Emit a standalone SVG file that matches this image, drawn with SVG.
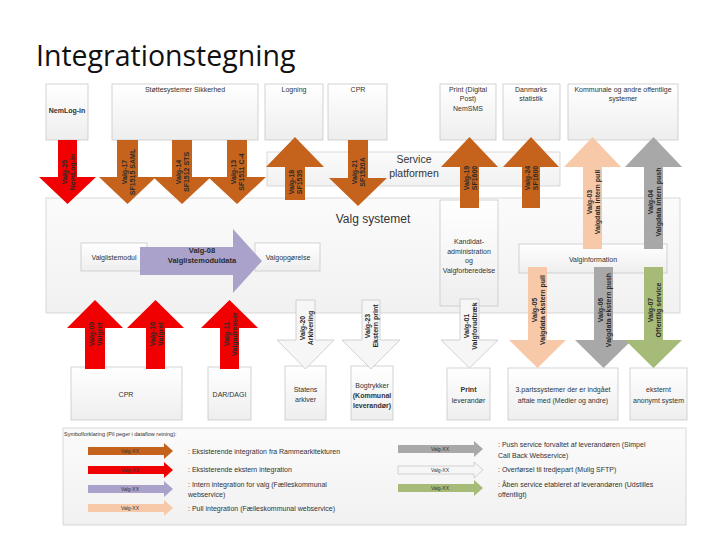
<svg xmlns="http://www.w3.org/2000/svg" width="720" height="540" viewBox="0 0 720 540">
<defs>
<linearGradient id="bx" x1="0" y1="0" x2="0" y2="1"><stop offset="0" stop-color="#ffffff"/><stop offset="1" stop-color="#eeeeee"/></linearGradient>
<linearGradient id="bg" x1="0" y1="0" x2="0" y2="1"><stop offset="0" stop-color="#fbfbfb"/><stop offset="1" stop-color="#f1f1f1"/></linearGradient>
</defs>
<style>
.box{fill:url(#bx);stroke:#c9c9c9;stroke-width:0.8}
.big{fill:url(#bg);stroke:#d0d0d0;stroke-width:0.8}
.t{font-family:"Liberation Sans",Arial,sans-serif;font-size:7px;fill:#333;text-anchor:middle}
.tb{font-weight:bold}
.a{font-family:"Liberation Sans",Arial,sans-serif;font-size:7px;fill:#2a2a2a;text-anchor:middle;font-weight:bold}
.org{fill:#c5631c}
.red{fill:#f00000}
.pur{fill:#aba2cb}
.pch{fill:#f7c9a9}
.gry{fill:#a8a8a8}
.grn{fill:#a7bb78}
.wht{fill:#f6f6f6;stroke:#c8c8c8;stroke-width:0.8}
.lg{font-family:"Liberation Sans",Arial,sans-serif;font-size:7px;fill:#333}
.lv{font-family:"Liberation Sans",Arial,sans-serif;font-size:5px;fill:#333;text-anchor:middle}
</style>
<rect width="720" height="540" fill="#ffffff"/>
<text x="36" y="66" font-family="'Open Sans',sans-serif" font-size="28.5" fill="#111">Integrationstegning</text>

<g id="valgsystemet"><rect class="big" x="46" y="198" width="634" height="115"/><text class="t" x="373" y="223" style="font-size:12px">Valg systemet</text></g>
<g id="serviceplatform"><rect class="big" x="267" y="152" width="293" height="34"/><text class="t" x="414" y="163" style="font-size:10.5px">Service</text><text class="t" x="414" y="177" style="font-size:10.5px">platformen</text></g>
<g id="nemlogin"><rect class="box" x="46" y="84" width="42" height="56"/><text class="t tb" x="67" y="113">NemLog-in</text></g>
<g id="stotte"><rect class="box" x="112" y="84" width="146" height="56"/><text class="t" x="185" y="92">Støttesystemer Sikkerhed</text></g>
<g id="logning"><rect class="box" x="265" y="84" width="58" height="56"/><text class="t" x="294" y="92">Logning</text></g>
<g id="cprtop"><rect class="box" x="328" y="84" width="59" height="56"/><text class="t" x="358" y="92">CPR</text></g>
<g id="print"><rect class="box" x="440" y="84" width="56" height="56"/><text class="t" x="468" y="92">Print (Digital</text><text class="t" x="468" y="101">Post)</text><text class="t" x="468" y="111">NemSMS</text></g>
<g id="dst"><rect class="box" x="503" y="84" width="57" height="56"/><text class="t" x="531" y="92">Danmarks</text><text class="t" x="531" y="101">statistik</text></g>
<g id="kommunale"><rect class="box" x="568" y="84" width="110" height="56"/><text class="t" x="623" y="92">Kommunale og andre offentlige</text><text class="t" x="623" y="101">systemer</text></g>
<g id="valglistemodul"><rect class="box" x="81" y="243" width="66" height="28"/><text class="t" x="114" y="260">Valglistemodul</text></g>
<g id="valgopgorelse"><rect class="box" x="255" y="243" width="65" height="28"/><text class="t" x="288" y="260">Valgopgørelse</text></g>
<g id="kandidat"><rect class="box" x="440" y="200" width="58" height="106"/><text class="t" x="469" y="244">Kandidat-</text><text class="t" x="469" y="254">administration</text><text class="t" x="469" y="263">og</text><text class="t" x="469" y="273">Valgforberedelse</text></g>
<g id="valginformation"><rect class="box" x="519" y="244" width="148" height="29"/><text class="t" x="593" y="262">Valginformation</text></g>
<g id="cpr"><rect class="box" x="71" y="367" width="111" height="53"/><text class="t" x="126" y="397">CPR</text></g>
<g id="dar"><rect class="box" x="208" y="367" width="43" height="53"/><text class="t" x="229.5" y="397">DAR/DAGI</text></g>
<g id="statens"><rect class="box" x="285" y="366" width="41" height="54"/><text class="t" x="305.5" y="392">Statens</text><text class="t" x="305.5" y="402">arkiver</text></g>
<g id="bogtrykker"><rect class="box" x="351" y="366" width="42" height="54"/><text class="t" x="372" y="388">Bogtrykker</text><text class="t tb" x="372" y="398">(Kommunal</text><text class="t tb" x="372" y="408">leverandør)</text></g>
<g id="printlev"><rect class="box" x="447" y="368" width="43" height="52"/><text class="t tb" x="468.5" y="392">Print</text><text class="t" x="468.5" y="403">leverandør</text></g>
<g id="tredjepart"><rect class="box" x="508" y="368" width="110" height="52"/><text class="t" x="563" y="392">3.partssystemer der er indgået</text><text class="t" x="563" y="403">aftale med (Medier og andre)</text></g>
<g id="eksternt"><rect class="box" x="630" y="368" width="57" height="52"/><text class="t" x="658.5" y="392">eksternt</text><text class="t" x="658.5" y="403">anonymt system</text></g>

<g id="connectors">
<polygon class="red" points="58,140 77,140 77,177 96,177 67.5,204 39,177 58,177"/>
<text class="a" transform="translate(67.5,172) rotate(-90)"><tspan x="0" y="-1">Valg-25</tspan><tspan x="0" y="7">NemLog-in</tspan></text>
<polygon class="org" points="117,140 138,140 138,177 156,177 127.5,204 99,177 117,177"/>
<text class="a" transform="translate(127.5,172) rotate(-90)"><tspan x="0" y="-1">Valg-17</tspan><tspan x="0" y="7">SF1515 SAML</tspan></text>
<polygon class="org" points="172,140 192,140 192,177 211,177 182,204 153,177 172,177"/>
<text class="a" transform="translate(182,172) rotate(-90)"><tspan x="0" y="-1">Valg-14</tspan><tspan x="0" y="7">SF1512 STS</tspan></text>
<polygon class="org" points="227,140 247,140 247,177 266,177 237,204 208,177 227,177"/>
<text class="a" transform="translate(237,172) rotate(-90)"><tspan x="0" y="-1">Valg-13</tspan><tspan x="0" y="7">SF1511 C-4</tspan></text>
<polygon class="org" points="285,200 285,167 266,167 295,137 324,167 305,167 305,200"/>
<text class="a" transform="translate(295,182) rotate(-90)"><tspan x="0" y="-1">Valg-18</tspan><tspan x="0" y="7">SF1535</tspan></text>
<polygon class="org" points="348,140 368,140 368,178 387,178 358,206 329,178 348,178"/>
<text class="a" transform="translate(358,172) rotate(-90)"><tspan x="0" y="-1">Valg-21</tspan><tspan x="0" y="7">SF1520A</tspan></text>
<polygon class="org" points="460,208 460,167 441,167 469.5,137 498,167 479,167 479,208"/>
<text class="a" transform="translate(469.5,178) rotate(-90)"><tspan x="0" y="-1">Valg-19</tspan><tspan x="0" y="7">SF1600</tspan></text>
<polygon class="org" points="522,208 522,167 503,167 531,137 559,167 540,167 540,208"/>
<text class="a" transform="translate(531,178) rotate(-90)"><tspan x="0" y="-1">Valg-24</tspan><tspan x="0" y="7">SF1600</tspan></text>
<polygon class="pch" points="583,249 583,167 564,167 592.5,137 621,167 602,167 602,249"/>
<text class="a" transform="translate(592.5,202) rotate(-90)"><tspan x="0" y="-1">Valg-03</tspan><tspan x="0" y="7">Valgdata intern pull</tspan></text>
<polygon class="gry" points="644,249 644,167 625,167 653.5,137 682,167 663,167 663,249"/>
<text class="a" transform="translate(653.5,202) rotate(-90)"><tspan x="0" y="-1">Valg-04</tspan><tspan x="0" y="7">Valgdata intern push</tspan></text>
<polygon class="pur" points="140,247 233,247 233,229 262,261 233,293 233,275 140,275"/>
<text class="a" x="202" y="253" style="font-size:7.5px">Valg-08</text>
<text class="a" x="202" y="263" style="font-size:7.5px">Valglistemoduldata</text>
<polygon class="red" points="85,369 85,328 67,328 95,300 123,328 105,328 105,369"/>
<text class="a" transform="translate(95,334) rotate(-90)"><tspan x="0" y="-1">Valg-09</tspan><tspan x="0" y="7">Valgret</tspan></text>
<polygon class="red" points="146,369 146,328 127,328 155.5,300 184,328 165,328 165,369"/>
<text class="a" transform="translate(155.5,334) rotate(-90)"><tspan x="0" y="-1">Valg-10</tspan><tspan x="0" y="7">Valgret</tspan></text>
<polygon class="red" points="220,369 220,328 201,328 229.5,300 258,328 239,328 239,369"/>
<text class="a" transform="translate(229.5,334) rotate(-90)"><tspan x="0" y="-1">Valg-11</tspan><tspan x="0" y="7">Valgadresser</tspan></text>
<polygon class="wht" points="296,300 315,300 315,340 334,340 305.5,369 277,340 296,340"/>
<text class="a" transform="translate(305.5,328) rotate(-90)"><tspan x="0" y="-1">Valg-20</tspan><tspan x="0" y="7">Arkivering</tspan></text>
<polygon class="wht" points="362,300 380,300 380,340 400,340 371,369 342,340 362,340"/>
<text class="a" transform="translate(371,326) rotate(-90)"><tspan x="0" y="-1">Valg-23</tspan><tspan x="0" y="7">Ekstern print</tspan></text>
<polygon class="wht" points="460,299 479,299 479,340 498,340 469.5,368 441,340 460,340"/>
<text class="a" transform="translate(469.5,326) rotate(-90)"><tspan x="0" y="-1">Valg-01</tspan><tspan x="0" y="7">Valgforudtræk</tspan></text>
<polygon class="pch" points="528,267 547,267 547,340 566,340 537.5,368 509,340 528,340"/>
<text class="a" transform="translate(537.5,310) rotate(-90)"><tspan x="0" y="-1">Valg-05</tspan><tspan x="0" y="7">Valgdata ekstern pull</tspan></text>
<polygon class="gry" points="594,267 613,267 613,340 632,340 603.5,368 575,340 594,340"/>
<text class="a" transform="translate(603.5,310) rotate(-90)"><tspan x="0" y="-1">Valg-06</tspan><tspan x="0" y="7">Valgdata ekstern push</tspan></text>
<polygon class="grn" points="644,267 663,267 663,340 682,340 653.5,368 625,340 644,340"/>
<text class="a" transform="translate(653.5,310) rotate(-90)"><tspan x="0" y="-1">Valg-07</tspan><tspan x="0" y="7">Offentlig service</tspan></text>
</g>

<g id="legend">
<rect class="big" x="63" y="428" width="623" height="97"/>
<text class="lg" x="64" y="436" style="font-size:5.5px">Symbolforklaring (Pil peger i dataflow retning):</text>
<polygon class="org" points="88,447 164,447 164,443 173,451 164,459 164,455 88,455"/>
<text class="lv" x="130" y="453">Valg-XX</text>
<text class="lg" x="188" y="454">: Eksisterende integration fra Rammearkitekturen</text>
<polygon class="red" points="88,466 164,466 164,462 173,470 164,478 164,474 88,474"/>
<text class="lv" x="130" y="472">Valg-XX</text>
<text class="lg" x="188" y="472">: Eksisterende ekstern integration</text>
<polygon class="pur" points="88,485 164,485 164,481 173,489 164,497 164,493 88,493"/>
<text class="lv" x="130" y="491">Valg-XX</text>
<text class="lg" x="188" y="487">: Intern integration for valg (Fælleskommunal</text>
<text class="lg" x="188" y="497">webservice)</text>
<polygon class="pch" points="88,504 164,504 164,500 173,508 164,516 164,512 88,512"/>
<text class="lv" x="130" y="510">Valg-XX</text>
<text class="lg" x="188" y="511">: Pull integration (Fælleskommunal webservice)</text>
<polygon class="gry" points="398,445 474,445 474,441 483,449 474,457 474,453 398,453"/>
<text class="lv" x="440" y="451">Valg-XX</text>
<text class="lg" x="498" y="447">: Push service forvaltet af leverandøren (Simpel</text>
<text class="lg" x="498" y="458">Call Back Webservice)</text>
<polygon class="wht" points="398,466 474,466 474,462 483,470 474,478 474,474 398,474"/>
<text class="lv" x="440" y="472">Valg-XX</text>
<text class="lg" x="498" y="472">: Overførsel til tredjepart (Mulig SFTP)</text>
<polygon class="grn" points="398,484 474,484 474,480 483,488 474,496 474,492 398,492"/>
<text class="lv" x="440" y="490">Valg-XX</text>
<text class="lg" x="498" y="487">: Åben service etableret af leverandøren (Udstilles</text>
<text class="lg" x="498" y="497">offentligt)</text>
</g>
</svg>
